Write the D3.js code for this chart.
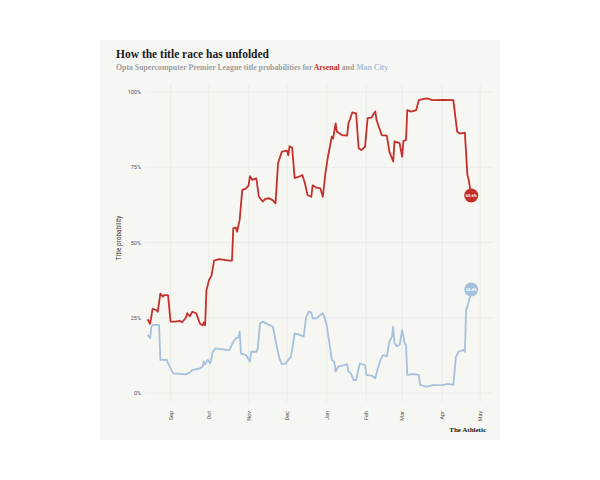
<!DOCTYPE html>
<html>
<head>
<meta charset="utf-8">
<script src="https://cdn.jsdelivr.net/npm/d3@7"></script>
<style>
  body { margin: 0; background: #fff; }
  svg { display: block; }
</style>
</head>
<body>
<div id="chart"></div>
<script>
// title probabilities (dates, % chance)
var arsenalDates = ["2022-08-14","2022-08-16","2022-08-18","2022-08-21","2022-08-22","2022-08-24","2022-08-26","2022-08-27","2022-08-30",
  "2022-09-01","2022-09-05","2022-09-08","2022-09-10","2022-09-13","2022-09-14","2022-09-16","2022-09-18","2022-09-21","2022-09-24","2022-09-26","2022-09-27","2022-09-28","2022-09-29",
  "2022-10-01","2022-10-03","2022-10-05","2022-10-09","2022-10-17","2022-10-19","2022-10-20","2022-10-22","2022-10-23","2022-10-25","2022-10-27","2022-10-30",
  "2022-11-01","2022-11-02","2022-11-04","2022-11-07","2022-11-09","2022-11-12","2022-11-14","2022-11-17","2022-11-20","2022-11-22","2022-11-24","2022-11-27",
  "2022-12-01","2022-12-02","2022-12-03","2022-12-05","2022-12-07","2022-12-11","2022-12-13","2022-12-15","2022-12-17","2022-12-20","2022-12-21","2022-12-24","2022-12-27","2022-12-29","2022-12-31",
  "2023-01-02","2023-01-05","2023-01-06","2023-01-08","2023-01-09","2023-01-13","2023-01-17","2023-01-18","2023-01-19","2023-01-21","2023-01-24","2023-01-26","2023-01-28","2023-01-31",
  "2023-02-02","2023-02-05","2023-02-08","2023-02-09","2023-02-13","2023-02-17","2023-02-19","2023-02-22","2023-02-23","2023-02-27",
  "2023-03-01","2023-03-02","2023-03-04","2023-03-05","2023-03-08","2023-03-12","2023-03-14","2023-03-20","2023-03-25",
  "2023-04-02","2023-04-10","2023-04-13","2023-04-15","2023-04-19","2023-04-21","2023-04-22","2023-04-24"];
var arsenalValues = [24.5,23,28,27.5,27,33,32,32.5,32.5,
  23.7,23.7,24,23.5,25,26.5,25.5,27,26.5,23,22.5,23.5,22.5,34,
  37.5,39,44,44.5,44,44,54.7,55,53.6,57.5,67.4,68,
  69,72,70.8,71.3,65.2,63.6,64.5,64.7,64,63,76.4,80.2,
  80.5,79,82,81.5,71.4,72,72.4,69.7,65.8,65.2,69,68.2,68,65.2,73,
  78.5,85.2,84.5,89.6,86.8,85.7,85.5,89.6,90.7,93.2,92.9,81.3,80.7,81.8,
  91.3,91.5,93.5,90.7,85.7,85.5,80.2,76.9,83.6,83,
  78.5,83.8,84,94,93.5,94,97.3,97.9,97.3,
  97.4,97.3,86.8,86.2,86.5,72.4,70.8,65.6];

var cityDates = ["2022-08-14","2022-08-16","2022-08-17","2022-08-18","2022-08-23","2022-08-24","2022-08-29","2022-08-30",
  "2022-09-01","2022-09-03","2022-09-13","2022-09-16","2022-09-18","2022-09-24","2022-09-26","2022-09-27","2022-09-28","2022-09-30",
  "2022-10-02","2022-10-04","2022-10-06","2022-10-15","2022-10-17","2022-10-20","2022-10-22","2022-10-24","2022-10-25","2022-10-26","2022-10-30",
  "2022-11-02","2022-11-03","2022-11-07","2022-11-08","2022-11-10","2022-11-12","2022-11-16","2022-11-20","2022-11-23","2022-11-25","2022-11-27","2022-11-30",
  "2022-12-02","2022-12-04","2022-12-05","2022-12-07","2022-12-11","2022-12-14","2022-12-16","2022-12-18","2022-12-20","2022-12-21","2022-12-24","2022-12-27","2022-12-29","2022-12-30",
  "2023-01-01","2023-01-03","2023-01-05","2023-01-07","2023-01-08","2023-01-10","2023-01-15","2023-01-17","2023-01-18","2023-01-20","2023-01-22","2023-01-24","2023-01-26","2023-01-27","2023-01-31",
  "2023-02-01","2023-02-05","2023-02-08","2023-02-10","2023-02-12","2023-02-14","2023-02-17","2023-02-19","2023-02-21","2023-02-22","2023-02-23","2023-02-25","2023-02-27",
  "2023-03-01","2023-03-03","2023-03-04","2023-03-05","2023-03-09","2023-03-14","2023-03-15","2023-03-20","2023-03-25",
  "2023-04-02","2023-04-06","2023-04-10","2023-04-12","2023-04-14","2023-04-18","2023-04-19","2023-04-20","2023-04-21","2023-04-23","2023-04-24"];
var cityValues = [19.3,18.2,22,22.6,22.6,11,11,10,
  8.2,6.5,6.2,6.8,7.6,8.2,8.8,10.4,9.5,11,
  9.8,13.7,14.8,14.3,14.3,17,18.2,18.5,20.4,13.1,12.6,
  10.4,13.7,13.7,14.5,23.2,23.7,22.8,22,15.4,11.5,9.6,9.8,
  11,12,14.3,19.8,19.3,18.7,25.3,27,26.8,24.8,24.8,25.9,26.5,25.5,
  22.6,17,11,10.3,7.1,8.8,9.3,9.6,7.1,6.5,4.3,4.3,8.2,9.8,9.3,
  6,5.8,4.9,8.2,11,12.6,12.2,17,18.7,22,16.5,15.5,16,
  20.9,16.5,16,6,6.3,6,2.7,2.1,2.6,
  2.7,3,2.7,12,13.7,14.3,13.7,27.6,28.7,32,34.4];

var yTicks = [0, 25, 50, 75, 100];
var monthTicks = ["2022-09-01","2022-10-01","2022-11-01","2022-12-01","2023-01-01","2023-02-01","2023-03-01","2023-04-01","2023-05-01"];

var arsenalColor = "#c4302b";
var cityColor = "#a5c1de";

var width = 600, height = 480;
var parse = d3.timeParse("%Y-%m-%d");

var svg = d3.select("#chart").append("svg")
    .attr("width", width)
    .attr("height", height);

// card background
svg.append("rect")
    .attr("x", 100).attr("y", 40)
    .attr("width", 400).attr("height", 400)
    .attr("fill", "#f6f6f2");

var x = d3.scaleTime()
    .domain([parse("2022-08-12"), parse("2023-05-11")])
    .range([145, 493]);

var y = d3.scaleLinear()
    .domain([0, 100])
    .range([393, 92]);

/*** GRID */
svg.selectAll(".hgrid")
    .data(yTicks)
    .enter().append("line")
    .attr("x1", 145).attr("x2", 493)
    .attr("y1", d => y(d)).attr("y2", d => y(d))
    .attr("stroke", "#eaeae5")
    .attr("stroke-width", 0.8);

svg.selectAll(".vgrid")
    .data(monthTicks)
    .enter().append("line")
    .attr("x1", d => x(parse(d))).attr("x2", d => x(parse(d)))
    .attr("y1", 85).attr("y2", 402)
    .attr("stroke", "#eaeae5")
    .attr("stroke-width", 0.8);

/*** AXES LABELS */
svg.selectAll(".ylab")
    .data(yTicks)
    .enter().append("text")
    .attr("x", 141)
    .attr("y", d => y(d) + 2)
    .attr("text-anchor", "end")
    .style("font-family", "Roboto, sans-serif")
    .style("font-size", "5.5px")
    .style("fill", "#555")
    .text(d => d + "%");

var fmtMonth = d3.timeFormat("%b");
svg.selectAll(".xlab")
    .data(monthTicks)
    .enter().append("text")
    .attr("transform", d => "translate(" + (x(parse(d)) + 2) + ",411) rotate(-90)")
    .attr("text-anchor", "end")
    .style("font-family", "Roboto, sans-serif")
    .style("font-size", "5.5px")
    .style("fill", "#555")
    .text(d => fmtMonth(parse(d)));

svg.append("text")
    .attr("transform", "translate(121,238) rotate(-90)")
    .attr("text-anchor", "middle")
    .style("font-family", "Roboto, sans-serif")
    .style("font-size", "6.5px")
    .style("fill", "#333")
    .text("Title probability");

/*** LINES */
var line = d3.line()
    .x(d => x(d.date))
    .y(d => y(d.value));

function series(dates, values) {
    return dates.map(function(d, i) { return {date: parse(d), value: values[i]}; });
}

var city = series(cityDates, cityValues);
var arsenal = series(arsenalDates, arsenalValues);

svg.append("path")
    .datum(city)
    .attr("d", line)
    .attr("fill", "none")
    .attr("stroke", cityColor)
    .attr("stroke-width", 1.8)
    .attr("stroke-linejoin", "round");

svg.append("path")
    .datum(arsenal)
    .attr("d", line)
    .attr("fill", "none")
    .attr("stroke", arsenalColor)
    .attr("stroke-width", 1.8)
    .attr("stroke-linejoin", "round");

// end markers
[[arsenal, arsenalColor], [city, cityColor]].forEach(function(s) {
    var last = s[0][s[0].length - 1];
    svg.append("circle")
        .attr("cx", x(last.date))
        .attr("cy", y(last.value))
        .attr("r", 7)
        .attr("fill", s[1]);
    svg.append("text")
        .attr("x", x(last.date))
        .attr("y", y(last.value) + 1.5)
        .attr("text-anchor", "middle")
        .style("font-family", "Roboto, sans-serif")
        .style("font-size", "4px")
        .style("font-weight", "bold")
        .style("fill", "#fff")
        .text(last.value.toFixed(1) + "%");
});

/*** TITLES */
svg.append("text")
    .attr("x", 116).attr("y", 58)
    .style("font-family", "'Liberation Serif', serif")
    .style("font-weight", "bold")
    .style("font-size", "11.5px")
    .style("fill", "#1a1a1a")
    .text("How the title race has unfolded");

var sub = svg.append("text")
    .attr("x", 116).attr("y", 70)
    .style("font-family", "'Liberation Serif', serif")
    .style("font-weight", "bold")
    .style("font-size", "7.8px")
    .style("fill", "#9e9e9e");
sub.append("tspan").text("Opta Supercomputer Premier League title probabilities for ");
sub.append("tspan").style("fill", arsenalColor).text("Arsenal");
sub.append("tspan").text(" and ");
sub.append("tspan").style("fill", cityColor).text("Man City");

svg.append("text")
    .attr("x", 486).attr("y", 432)
    .attr("text-anchor", "end")
    .style("font-family", "'Liberation Serif', serif")
    .style("font-weight", "bold")
    .style("font-size", "7px")
    .style("fill", "#1a1a1a")
    .text("The Athletic");
</script>
</body>
</html>
